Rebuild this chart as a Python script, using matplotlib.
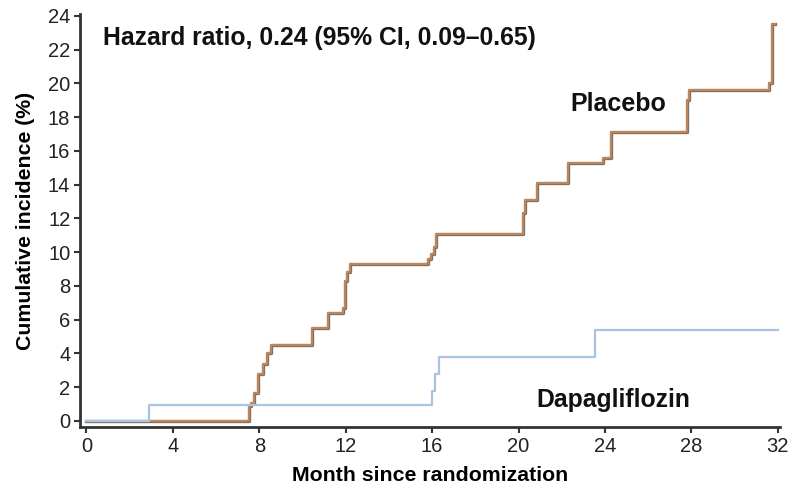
import numpy as np
import matplotlib
matplotlib.use("Agg")
import matplotlib.pyplot as plt

plt.rcParams["font.family"] = ["Liberation Sans", "DejaVu Sans"]

# step curves (month, cumulative incidence %)
placebo_month = [0, 7.5, 7.6, 7.75, 7.95, 8.15, 8.35, 8.55, 10.45, 11.2, 11.85, 11.95,
                 12.05, 12.2, 15.8, 15.95, 16.1, 16.2, 20.2, 20.3, 20.85, 22.3, 23.9,
                 24.3, 27.8, 27.9, 31.6, 31.75, 31.85]
placebo_inc = [0, 0.9, 1.05, 1.65, 2.8, 3.4, 4.0, 4.5, 5.5, 6.4, 6.7, 8.3,
               8.8, 9.3, 9.6, 9.9, 10.3, 11.1, 12.3, 13.1, 14.1, 15.3, 15.6,
               17.1, 19.0, 19.6, 20.0, 23.5, 23.5]

dapa_month = [0, 2.9, 16.0, 16.15, 16.3, 23.55, 32.0]
dapa_inc = [0, 0.95, 1.8, 2.8, 3.8, 5.4, 5.4]

x_ticks = [0, 4, 8, 12, 16, 20, 24, 28, 32]
y_ticks = list(range(0, 25, 2))

fig = plt.figure(figsize=(7.89, 4.84), dpi=100)
ax = fig.add_axes([0.1014, 0.1178, 0.8872, 0.853])

ax.step(placebo_month, placebo_inc, where="post", color="#85705f", lw=2.4, zorder=2)
ax.step(placebo_month, placebo_inc, where="post", color="#c4895a", lw=1.3, zorder=2)
ax.step(dapa_month, dapa_inc, where="post", color="#a9c3e2", lw=1.6, zorder=3)

ax.set_xlim(-0.3, 32.1)
ax.set_ylim(-0.36, 24.1)
ax.set_xticks(x_ticks)
ax.set_yticks(y_ticks)

for s in ["top", "right"]:
    ax.spines[s].set_visible(False)
for s in ["left", "bottom"]:
    ax.spines[s].set_linewidth(2)
    ax.spines[s].set_color("#333333")
ax.tick_params(direction="out", length=4, width=1.5, labelsize=14.5, colors="#333333",
               labelcolor="#222222", pad=3)

ax.set_xlabel("Month since randomization", fontsize=15.3, fontweight="bold")
ax.xaxis.set_label_coords(0.5, -0.095)
ax.set_ylabel("Cumulative incidence (%)", fontsize=15.3, fontweight="bold")
ax.yaxis.set_label_coords(-0.064, 0.5)

ax.text(0.75, 22.7, "Hazard ratio, 0.24 (95% CI, 0.09\u20130.65)", fontsize=17.8,
        fontweight="bold", va="center", ha="left", color="#111111")
ax.text(24.6, 18.8, "Placebo", fontsize=18, fontweight="bold", ha="center",
        va="center", color="#111111")
ax.text(24.4, 1.25, "Dapagliflozin", fontsize=17.8, fontweight="bold", ha="center",
        va="center", color="#111111")

fig.savefig("out.png", dpi=100)
